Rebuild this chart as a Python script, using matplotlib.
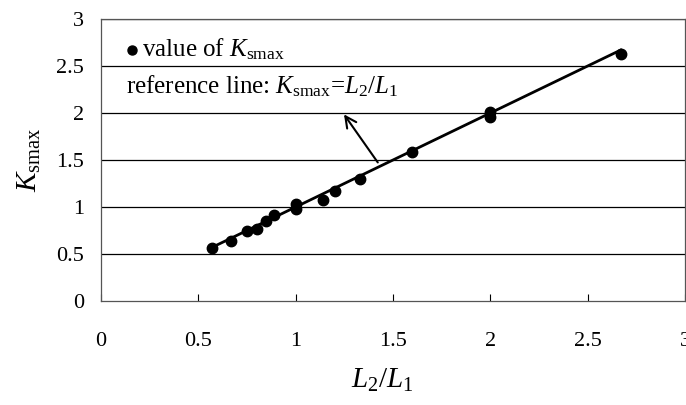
import matplotlib.pyplot as plt

plt.rcParams['font.family'] = 'Liberation Serif'
plt.rcParams['mathtext.fontset'] = 'custom'
plt.rcParams['mathtext.rm'] = 'Liberation Serif'
plt.rcParams['mathtext.it'] = 'Liberation Serif:italic'

# measured K_smax against length ratio L2/L1
ratio = [0.57, 0.67, 0.75, 0.80, 0.85, 0.89, 1.00, 1.00, 1.14, 1.20, 1.33, 1.60, 2.00, 2.00, 2.67]
k_smax = [0.56, 0.64, 0.75, 0.77, 0.85, 0.92, 1.03, 0.98, 1.07, 1.17, 1.30, 1.59, 2.01, 1.96, 2.63]

# reference line K_smax = L2/L1 over the same ratios
ref_x = sorted(set(ratio))
ref_y = list(ref_x)

x_ticks = [0, 0.5, 1, 1.5, 2, 2.5, 3]
y_ticks = [0, 0.5, 1, 1.5, 2, 2.5, 3]

fig = plt.figure(figsize=(6.86, 4.05), dpi=100)
ax = fig.add_axes([101 / 686, 1 - 301 / 405, 584 / 686, 282 / 405])

ax.set_xlim(0, 3)
ax.set_ylim(0, 3)
ax.set_xticks(x_ticks)
ax.set_yticks(y_ticks)
ax.set_xticklabels([f"{t:g}" for t in x_ticks])
ax.set_yticklabels([f"{t:g}" for t in y_ticks])
ax.tick_params(axis='x', direction='in', length=5, width=0.8, pad=22, labelsize=16)
ax.tick_params(axis='y', length=0, pad=12, labelsize=16)

for y in y_ticks[1:]:
    ax.axhline(y, color='black', linewidth=0.9, zorder=1)

for side in ['left', 'bottom', 'right', 'top']:
    ax.spines[side].set_linewidth(0.9)
    ax.spines[side].set_color('#555555')

ax.plot(ref_x, ref_y, color='black', linewidth=2.0, zorder=2)
ax.plot(ratio, k_smax, 'o', color='black', markersize=7.5, zorder=3)

ax.set_xlabel(r"$L_2/L_1$", fontsize=21)
ax.xaxis.set_label_coords(0.482, -0.235)
ax.set_ylabel(r"$K_{\mathrm{smax}}$", fontsize=21, labelpad=10)

# key text inside the plot
ax.plot([0.157], [2.67], 'o', color='black', markersize=6.5)
ax.text(0.21, 2.68, r"value of $K_{\mathrm{smax}}$", fontsize=18, va='center', ha='left')
ax.text(0.13, 2.29, r"reference line: $K_{\mathrm{smax}}$=$L_2/L_1$", fontsize=18,
        va='center', ha='left')
ax.annotate("", xy=(1.24, 2.01), xytext=(1.43, 1.45),
            arrowprops=dict(arrowstyle='->', color='black', linewidth=1.5,
                            mutation_scale=20))

fig.savefig("out.png", dpi=100)
